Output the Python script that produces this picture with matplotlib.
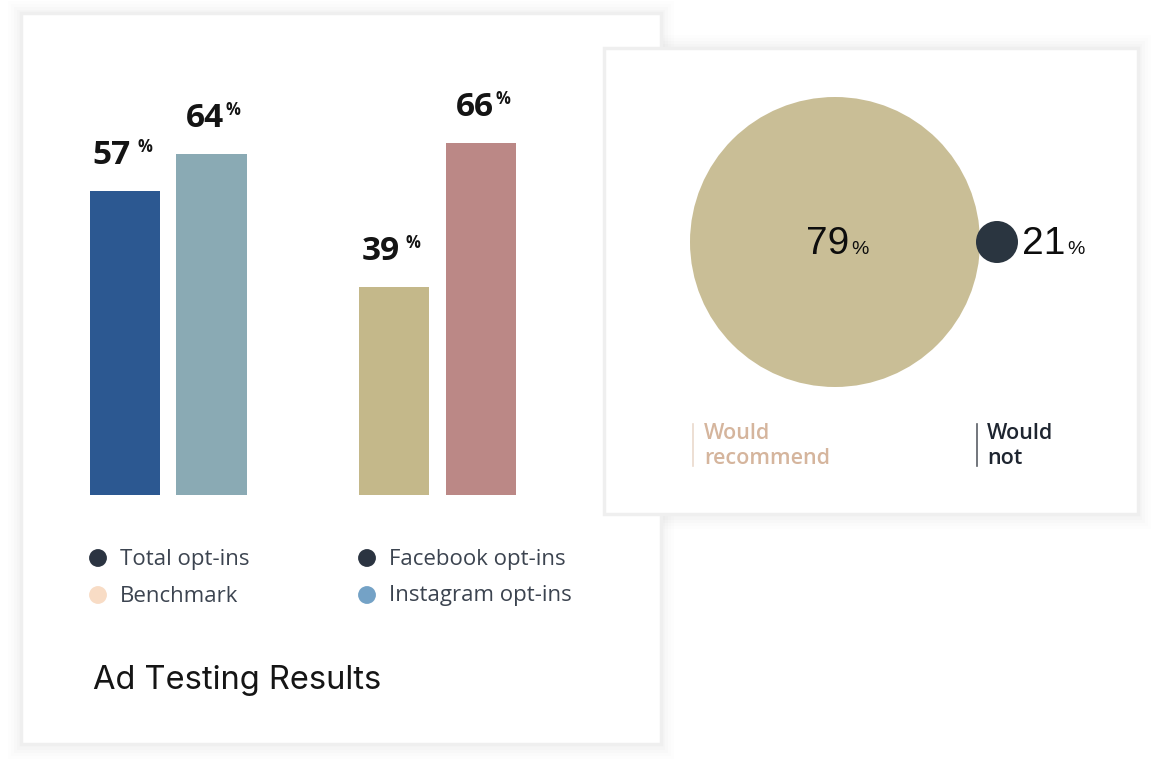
import matplotlib
matplotlib.use("Agg")
import matplotlib.pyplot as plt
from matplotlib.patches import Rectangle, Circle

# ---------------- data ----------------
bar_labels = ["Total opt-ins", "Benchmark", "Facebook opt-ins", "Instagram opt-ins"]
bar_values = [57, 64, 39, 66]
bar_colors = ["#2c5891", "#8aaab4", "#c4b88a", "#bb8886"]
legend_labels = ["Total opt-ins", "Benchmark", "Facebook opt-ins", "Instagram opt-ins"]
legend_colors = ["#2b3441", "#f8dcc5", "#2b3441", "#74a2c6"]
title_text = "Ad Testing Results"

rec_labels = ["Would\nrecommend", "Would\nnot"]
rec_values = [79, 21]
rec_colors = ["#c9be96", "#2a3540"]
rec_text_colors = ["#d5b59d", "#1e2530"]
rec_bar_colors = ["#ead9cc", "#5a5f66"]

W, H = 1165, 779
fig = plt.figure(figsize=(W / 100, H / 100), dpi=100)
fig.patch.set_facecolor("white")

# background axes in pixel coordinates for cards and text
bg = fig.add_axes([0, 0, 1, 1])
bg.set_xlim(0, W)
bg.set_ylim(H, 0)
bg.axis("off")

# soft shadows
for (x0, y0, w, h) in [(17, 10, 648, 740), (600, 44, 542, 476)]:
    for k, a in enumerate([0.012, 0.01, 0.008, 0.006]):
        bg.add_patch(Rectangle((x0 - 3 * k, y0 - 3 * k), w + 6 * k, h + 6 * k,
                               facecolor="#000000", alpha=a, edgecolor="none", zorder=0))

# left card
bg.add_patch(Rectangle((21, 13), 640, 731, facecolor="white", edgecolor="#efefef",
                       linewidth=2.5, zorder=1))
# right card
bg.add_patch(Rectangle((604, 48), 534, 466, facecolor="white", edgecolor="#efefef",
                       linewidth=2.5, zorder=3))

# ---------------- bar chart ----------------
px_per_unit = 86.5
bx_pix = [125, 211.5, 394, 481]
x_pos = [(p - 125) / px_per_unit for p in bx_pix]
left_px, right_px = 60, 560
base_px, top_px = 495, 495 - 80 * 5.33
axb = fig.add_axes([left_px / W, 1 - base_px / H, (right_px - left_px) / W, (base_px - top_px) / H])
axb.set_xlim((left_px - 125) / px_per_unit, (right_px - 125) / px_per_unit)
axb.set_ylim(0, 80)
axb.axis("off")
axb.patch.set_alpha(0)
axb.set_zorder(2)
axb.bar(x_pos, bar_values, width=0.82, color=bar_colors, edgecolor="none")

num_off = [6, 12.5, 6, 13]
pct_off = [13, 14.5, 12, 14]
for x, v, no, po in zip(x_pos, bar_values, num_off, pct_off):
    axb.annotate(str(v), (x, v), xytext=(no * 0.72, 27 * 0.72), textcoords="offset points",
                 ha="right", va="baseline", fontsize=24, fontweight="bold",
                 family="Open Sans", color="#141414")
    axb.annotate("%", (x, v), xytext=(po * 0.72, 39 * 0.72), textcoords="offset points",
                 ha="left", va="baseline", fontsize=12, fontweight="bold",
                 family="Open Sans", color="#141414")

# legend
leg_pos = [(98, 558), (98, 595), (367, 558), (367, 595)]
for (lx, ly), lab, col in zip(leg_pos, legend_labels, legend_colors):
    bg.scatter([lx], [ly], s=165, color=col, edgecolors="none", zorder=4)
    bg.text(lx + 22, ly + 1, lab, ha="left", va="center", fontsize=16, family="Open Sans",
            color="#3c4450", zorder=4)

bg.text(93, 681, title_text, ha="left", va="center", fontsize=23.5, family="Inter",
        color="#151515", zorder=4)

# ---------------- bubble panel ----------------
axc = fig.add_axes([600 / W, 1 - 500 / H, 540 / W, 460 / H])
axc.set_xlim(600, 1140)
axc.set_ylim(500, 40)
axc.set_aspect("equal")
axc.axis("off")
axc.patch.set_alpha(0)
axc.set_zorder(5)
axc.add_patch(Circle((835, 242), 145, facecolor=rec_colors[0], edgecolor="none"))
axc.add_patch(Circle((997, 242), 21, facecolor=rec_colors[1], edgecolor="none"))

axc.text(849, 254, str(rec_values[0]), ha="right", va="baseline", fontsize=28,
         family="Liberation Sans", color="#0d0d0d")
axc.text(851, 254, "%", ha="left", va="baseline", fontsize=14,
         family="Liberation Sans", color="#0d0d0d")
axc.text(1065, 254, str(rec_values[1]), ha="right", va="baseline", fontsize=28,
         family="Liberation Sans", color="#0d0d0d")
axc.text(1067, 254, "%", ha="left", va="baseline", fontsize=14,
         family="Liberation Sans", color="#0d0d0d")

for (tx, barx), lab, tc, bc in zip([(704, 693), (987, 977)], rec_labels, rec_text_colors, rec_bar_colors):
    axc.plot([barx, barx], [424, 466], color=bc, linewidth=1.2)
    axc.text(tx, 423, lab, ha="left", va="top", fontsize=15.5, family="Open Sans",
             fontweight="semibold", color=tc, linespacing=1.27)

fig.savefig("out.png", dpi=100, facecolor="white")
